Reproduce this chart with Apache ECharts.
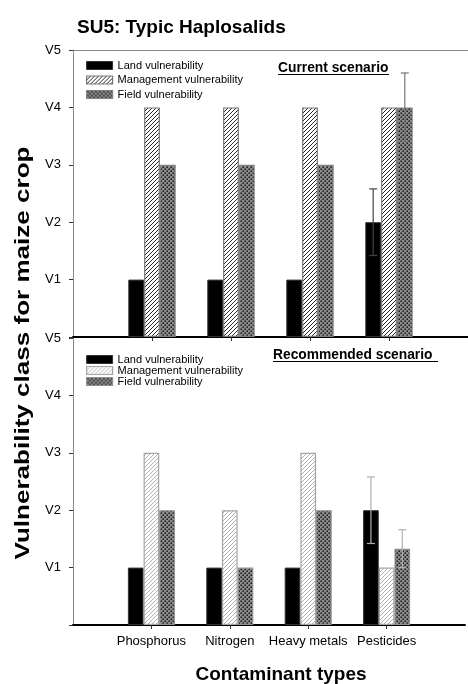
<!DOCTYPE html>
<html><head><meta charset="utf-8">
<script src="https://cdn.jsdelivr.net/npm/echarts@6/dist/echarts.min.js"></script>
<style>html,body{margin:0;padding:0;background:#fff}#c{width:468px;height:684px}</style>
</head><body><div id="c"></div>
<script>
// ---- data ----
const chartTitle = 'SU5: Typic Haplosalids';
const xTitle = 'Contaminant types';
const yTitle = 'Vulnerability class for maize crop';
const panelTitles = ['Current scenario', 'Recommended scenario'];
const categories = ['Phosphorus', 'Nitrogen', 'Heavy metals', 'Pesticides'];
const seriesNames = ['Land vulnerability', 'Management vulnerability', 'Field vulnerability'];
const yTickLabels = ['', 'V1', 'V2', 'V3', 'V4', 'V5'];

const currentLand = [1, 1, 1, 2];
const currentMgmt = [4, 4, 4, 4];
const currentField = [3, 3, 3, 4];
const currentLandErr = [0, 0, 0, 0.58];
const currentFieldErr = [0, 0, 0, 0.6];

const recLand = [1, 1, 1, 2];
const recMgmt = [3, 2, 3, 1];
const recField = [2, 1, 2, 1.33];
const recLandErr = [0, 0, 0, 0.58];
const recFieldErr = [0, 0, 0, 0.33];

// ---- helpers ----
const FONT = '"Liberation Sans", Arial, sans-serif';
const axisCats = [''].concat(categories, ['']);
const pad = arr => ['-'].concat(arr, ['-']);

function hatch(lineColor) {
  const c = document.createElement('canvas'); c.width = 4; c.height = 4;
  const g = c.getContext('2d');
  g.fillStyle = '#fff'; g.fillRect(0, 0, 4, 4);
  g.strokeStyle = lineColor; g.lineWidth = 0.95;
  g.beginPath();
  g.moveTo(-1, 5); g.lineTo(5, -1);
  g.moveTo(-1, 1); g.lineTo(1, -1);
  g.moveTo(3, 5); g.lineTo(5, 3);
  g.stroke();
  return { image: c, repeat: 'repeat' };
}
function dots() {
  const c = document.createElement('canvas'); c.width = 4; c.height = 4;
  const g = c.getContext('2d');
  g.fillStyle = '#8c8c8c'; g.fillRect(0, 0, 4, 4);
  g.fillStyle = '#000';
  g.fillRect(0.5, 0.5, 1.4, 1.4);
  g.fillRect(2.5, 2.5, 1.4, 1.4);
  return { image: c, repeat: 'repeat' };
}

const styles = [
  { // current
    land: { color: '#000', borderColor: '#333', borderWidth: 1 },
    mgmt: { color: hatch('#1a1a1a'), borderColor: '#777', borderWidth: 1.2 },
    field: { color: dots(), borderColor: '#808080', borderWidth: 1.2 },
    errLand: '#444', errField: '#777'
  },
  { // recommended
    land: { color: '#000', borderColor: '#333', borderWidth: 1 },
    mgmt: { color: hatch('#adadad'), borderColor: '#a5a5a5', borderWidth: 1.2 },
    field: { color: dots(), borderColor: '#909090', borderWidth: 1.2 },
    errLand: '#b0b0b0', errField: '#b0b0b0'
  }
];

function errSeries(xi, yi, vals, errs, slot, color) {
  const data = [];
  vals.forEach((v, i) => { if (errs[i] > 0) data.push([i + 1, v, errs[i]]); });
  return {
    type: 'custom', xAxisIndex: xi, yAxisIndex: yi, z: 10, silent: true,
    data: data,
    renderItem: function (params, api) {
      const band = api.size([1, 0])[0];
      const bw = band * 0.6 / 3;
      const ctr = api.coord([api.value(0), api.value(1)]);
      const x = ctr[0] + slot * bw;
      const top = api.coord([api.value(0), api.value(1) + api.value(2)])[1];
      const bot = api.coord([api.value(0), api.value(1) - api.value(2)])[1];
      const cw = 4;
      const st = { stroke: color, lineWidth: 1.2 };
      return { type: 'group', children: [
        { type: 'line', shape: { x1: x, y1: top, x2: x, y2: bot }, style: st },
        { type: 'line', shape: { x1: x - cw, y1: top, x2: x + cw, y2: top }, style: st },
        { type: 'line', shape: { x1: x - cw, y1: bot, x2: x + cw, y2: bot }, style: st }
      ]};
    }
  };
}

function barSeries(xi, yi, name, vals, itemStyle) {
  return {
    type: 'bar', name: name, xAxisIndex: xi, yAxisIndex: yi,
    data: pad(vals), itemStyle: itemStyle,
    barGap: '0%', barCategoryGap: '40%', animation: false
  };
}

function legendFor(top, gap, lh, st) {
  return {
    orient: 'vertical', left: 81, top: top, itemWidth: 26, itemHeight: 8, itemGap: gap,
    icon: 'rect', selectedMode: false,
    textStyle: { fontFamily: FONT, fontSize: 11, color: '#000', lineHeight: lh },
    data: [
      { name: seriesNames[0], itemStyle: st.land },
      { name: seriesNames[1], itemStyle: st.mgmt },
      { name: seriesNames[2], itemStyle: st.field }
    ]
  };
}

const yAxisCommon = {
  type: 'value', min: 0, max: 5, interval: 1,
  axisLine: { show: true, lineStyle: { color: '#888', width: 1 } },
  axisTick: { show: true, length: 4, lineStyle: { color: '#333' } },
  splitLine: { show: false },
  axisLabel: { fontFamily: FONT, fontSize: 13, color: '#000', margin: 12,
    formatter: v => yTickLabels[Math.round(v)] || '' }
};
const tickShow = (idx) => idx > 0 && idx < axisCats.length - 1;

const option = {
  animation: false,
  backgroundColor: '#fff',
  title: { text: chartTitle, left: 72, top: 12,
    textStyle: { fontFamily: FONT, fontSize: 19, fontWeight: 'bold', color: '#000', lineHeight: 22 } },
  grid: [
    { left: 73, right: 0, top: 50, height: 287 },
    { left: 73, right: 0, top: 338, height: 287 }
  ],
  xAxis: [
    { type: 'category', gridIndex: 0, data: axisCats, boundaryGap: false,
      axisLine: { lineStyle: { color: '#000', width: 2 } },
      axisTick: { show: true, length: 4, interval: tickShow, lineStyle: { color: '#333' } },
      axisLabel: { show: false } },
    { type: 'category', gridIndex: 0, data: axisCats, boundaryGap: false, position: 'top',
      axisLine: { lineStyle: { color: '#888', width: 1 } },
      axisTick: { show: false }, axisLabel: { show: false } },
    { type: 'category', gridIndex: 1, data: axisCats, boundaryGap: false,
      axisLine: { lineStyle: { color: '#000', width: 2 } },
      axisTick: { show: true, length: 4, interval: tickShow, lineStyle: { color: '#333' } },
      axisLabel: { show: true, interval: 0, fontFamily: FONT, fontSize: 13, color: '#000', margin: 10 } }
  ],
  yAxis: [
    Object.assign({ gridIndex: 0 }, yAxisCommon),
    Object.assign({ gridIndex: 1 }, yAxisCommon)
  ],
  legend: [ legendFor(55, 3.5, 11, styles[0]), legendFor(349, 0, 10, styles[1]) ],
  series: [
    barSeries(0, 0, seriesNames[0], currentLand, styles[0].land),
    barSeries(0, 0, seriesNames[1], currentMgmt, styles[0].mgmt),
    barSeries(0, 0, seriesNames[2], currentField, styles[0].field),
    errSeries(0, 0, currentLand, currentLandErr, -1, styles[0].errLand),
    errSeries(0, 0, currentField, currentFieldErr, 1, styles[0].errField),
    barSeries(2, 1, seriesNames[0], recLand, styles[1].land),
    barSeries(2, 1, seriesNames[1], recMgmt, styles[1].mgmt),
    barSeries(2, 1, seriesNames[2], recField, styles[1].field),
    errSeries(2, 1, recLand, recLandErr, -1, styles[1].errLand),
    errSeries(2, 1, recField, recFieldErr, 1, styles[1].errField)
  ],
  graphic: [
    { type: 'text', x: 23, y: 353, rotation: Math.PI / 2, scaleX: 1.24,
      style: { text: yTitle, fontFamily: FONT, fontSize: 21, fontWeight: 'bold', fill: '#000',
        textAlign: 'center', textVerticalAlign: 'middle' } },
    { type: 'text', x: 281, y: 675,
      style: { text: xTitle, fontFamily: FONT, fontSize: 19, fontWeight: 'bold', fill: '#000',
        textAlign: 'center', textVerticalAlign: 'middle' } },
    { type: 'text', x: 278, y: 68,
      style: { text: panelTitles[0], fontFamily: FONT, fontSize: 13.8, fontWeight: 'bold', fill: '#000',
        textAlign: 'left', textVerticalAlign: 'middle' } },
    { type: 'line', shape: { x1: 278, y1: 74.5, x2: 389, y2: 74.5 }, style: { stroke: '#000', lineWidth: 1 } },
    { type: 'text', x: 273, y: 355,
      style: { text: panelTitles[1], fontFamily: FONT, fontSize: 13.8, fontWeight: 'bold', fill: '#000',
        textAlign: 'left', textVerticalAlign: 'middle' } },
    { type: 'line', shape: { x1: 273, y1: 361.5, x2: 438, y2: 361.5 }, style: { stroke: '#000', lineWidth: 1 } }
  ]
};

const chart = echarts.init(document.getElementById('c'), null, { renderer: 'canvas' });
chart.setOption(option);
</script>
</body></html>
